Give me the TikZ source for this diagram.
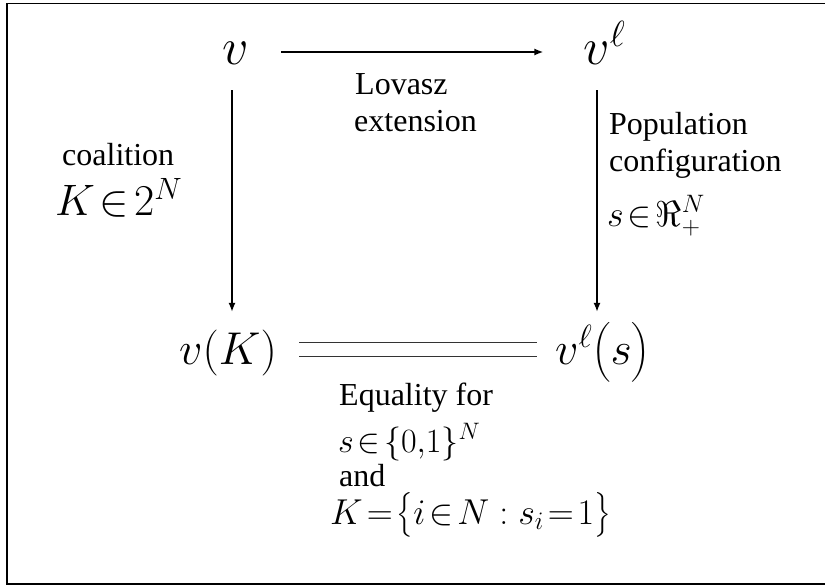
\RequirePackage{fix-cm}
\documentclass[tikz,border=0pt]{standalone}
\usepackage{amsmath}
\usepackage{mathtools}
\usepackage{fontspec}
\setmainfont{Liberation Serif}
\newfontfamily\lblfont{Liberation Serif}
\usetikzlibrary{arrows.meta}

\begin{document}
\begin{tikzpicture}
[
	x=1pt,y=-1pt,
	bigmath/.style={font=\fontsize{52}{60}\selectfont,inner sep=0pt,text height=26pt,text depth=0pt},
	midmath/.style={font=\fontsize{46}{54}\selectfont,inner sep=0pt,text height=30pt,text depth=0pt},
	lbltext/.style={font=\lblfont\fontsize{32}{38}\selectfont,inner sep=0pt,anchor=base west},
	maparrow/.style={-{Latex[length=9pt,width=7pt]},line width=1.4pt},
	eqline/.style={double distance=13pt,line width=1pt,draw=black!80}
]

	\useasboundingbox (0,0) rectangle (825,586);

	% frame
	\draw[line width=1.5pt] (7,3.5) rectangle (826,584);

	% corners of the square
	\node[bigmath,anchor=base] (v) at (236,65) {$v$};
	\node[bigmath,anchor=base] (vl) at (597,65) {$v^{\mathrlap{\ell}}$};
	\node[midmath,anchor=base west] (vK) at (179,364) {$v(K)$};
	\node[midmath,anchor=base west] (vls) at (555,364) {$v^{\ell}\bigl(s\bigr)$};

	% maps
	\draw[maparrow,shorten <=32pt,shorten >=40pt] (v.east) -- (vl.west);
	\draw[maparrow,shorten <=25pt,shorten >=22pt] ([xshift=-4pt]v.south) -- ([xshift=-4pt]v.south |- vK.north);
	\draw[maparrow,shorten <=25pt,shorten >=22pt] (vl.south) -- (vl.south |- vls.north);
	\draw[eqline,shorten <=22pt,shorten >=18pt] (vK.east) -- (vls.west);

	% labels of the maps
	\node[lbltext] (lovasz) at (355,95) {Lovasz};
	\node[lbltext] (extension) at (354,131) {extension};
	%
	\node[lbltext] (coalition) at (62,165) {coalition};
	\node[lbltext,font=\fontsize{44}{52}\selectfont] (Kset) at (55,215) {$K\!\in\!2^N$};
	%
	\node[lbltext] (population) at (609,135) {Population};
	\node[lbltext] (configuration) at (609,171) {configuration};
	\node[lbltext,font=\fontsize{36}{42}\selectfont] (sset) at (607,226) {$s\!\in\!\Re_+^N$};
	%
	\node[lbltext] (equality) at (339,405) {Equality for};
	\node[lbltext,font=\fontsize{34}{40}\selectfont] (sbin) at (338,452) {$s\!\in\!\{0{,}1\}^N$};
	\node[lbltext] (and) at (339,486) {and};
	\node[lbltext,font=\fontsize{36}{42}\selectfont] (Kdef) at (330,524) {$K\!=\!\bigl\{i\!\in\!N:s_i\!=\!1\bigr\}$};

\end{tikzpicture}
\end{document}
